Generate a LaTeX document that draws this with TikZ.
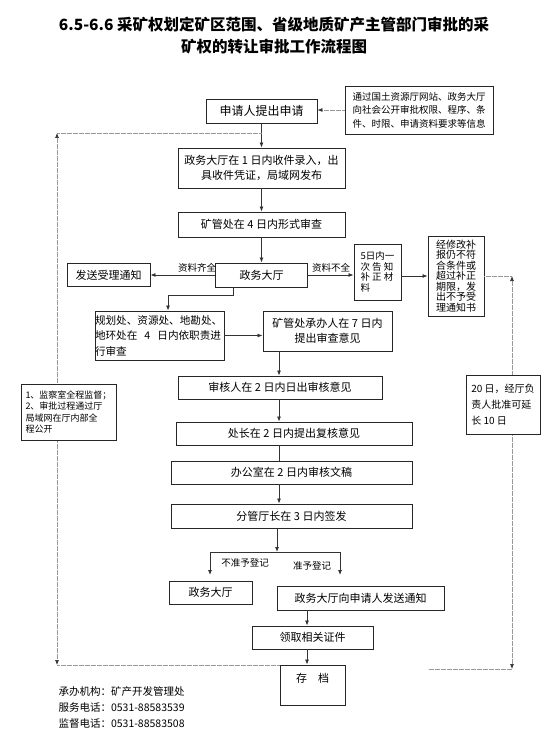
\documentclass[tikz,border=0pt]{standalone}
\usepackage{fontspec}
\setmainfont{Noto Sans CJK SC}
\usetikzlibrary{arrows.meta}
\tikzstyle{box}=[draw=black!85, line width=0.9pt, fill=white, inner sep=0pt, align=center, font=\fontsize{11}{15}\selectfont]
\tikzstyle{arr}=[draw=black!80, line width=0.8pt, -{Latex[length=5pt,width=4pt]}]
\tikzstyle{link}=[draw=black!80, line width=0.8pt]
\tikzstyle{dotline}=[draw=black!40, line width=0.7pt, dash pattern=on 0.6pt off 0.6pt]
\tikzstyle{dotarr}=[dotline, -{Latex[length=5pt,width=4pt,color=black!80]}]
\tikzstyle{dotboth}=[dotline, {Latex[length=5pt,width=4pt,color=black!80]}-{Latex[length=5pt,width=4pt,color=black!80]}]
\tikzstyle{small}=[font=\fontsize{9.5}{11}\selectfont]
\newcommand{\boxnode}{\node[box]}

\begin{document}
\begin{tikzpicture}[x=1pt,y=-1pt]
\useasboundingbox (0,0) rectangle (554,738);
\node[font=\fontsize{15.5}{22}\selectfont\bfseries, align=center] (title) at (274,36) {6.5-6.6 采矿权划定矿区范围、省级地质矿产主管部门审批的采\\矿权的转让审批工作流程图};

%main column
\boxnode[minimum width=111pt, minimum height=24pt, font=\fontsize{12}{15}\selectfont] (apply) at (261.5,111) {申请人提出申请};
\boxnode[minimum width=148pt, minimum height=48pt, font=\fontsize{9.5}{13.5}\selectfont] (info) at (419,110) {通过国土资源厅网站、政务大厅\\向社会公开审批权限、程序、条\\件、时限、申请资料要求等信息};
\boxnode[minimum width=167pt, minimum height=40pt] (hall1) at (261.5,168) {政务大厅在 1 日内收件录入，出\\具收件凭证，局域网发布};
\boxnode[minimum width=167pt, minimum height=25pt] (check) at (261.5,224.5) {矿管处在 4 日内形式审查};
\boxnode[minimum width=92pt, minimum height=24pt] (hall2) at (261.5,275) {政务大厅};
\boxnode[minimum width=83pt, minimum height=23pt] (notify) at (108.5,275) {发送受理通知};
\boxnode[minimum width=47pt, minimum height=56pt, align=left, font=\fontsize{9.5}{10.5}\selectfont] (b5) at (377.5,272) {5日内一\\次 告 知\\补 正 材\\料};
\boxnode[minimum width=56pt, minimum height=80pt, font=\fontsize{10}{10.5}\selectfont] (reject) at (456,276) {经修改补\\报仍不符\\合条件或\\超过补正\\期限，发\\出不予受\\理通知书};
\boxnode[minimum width=129pt, minimum height=49pt, text width=129pt, align=left, font=\fontsize{10.6}{15.5}\selectfont] (depts) at (159.5,335.5) {规划处、资源处、地勘处、\\地环处在 \ 4 \ 日内依职责进\\行审查};
\boxnode[minimum width=129pt, minimum height=40pt] (clerk) at (327.5,331) {矿管处承办人在 7 日内\\提出审查意见};
\boxnode[minimum width=204pt, minimum height=23pt] (audit) at (280,387.5) {审核人在 2 日内日出审核意见};
\boxnode[minimum width=236pt, minimum height=23pt] (chief) at (294,433.5) {处长在 2 日内提出复核意见};
\boxnode[minimum width=241pt, minimum height=23pt] (office) at (291.5,472.5) {办公室在 2 日内审核文稿};
\boxnode[minimum width=241pt, minimum height=24pt] (sign) at (291.5,516) {分管厅长在 3 日内签发};
\boxnode[minimum width=83pt, minimum height=23pt] (hall3) at (210.5,592.5) {政务大厅};
\boxnode[minimum width=167pt, minimum height=24pt] (send) at (360.5,598) {政务大厅向申请人发送通知};
\boxnode[minimum width=121pt, minimum height=23pt] (cert) at (312.5,637.5) {领取相关证件};
\boxnode[minimum width=65pt, minimum height=40pt] (archive) at (312.5,685) {存\hspace{1em}档\\ \mbox{}};

\coordinate (spine) at (279,0);
\coordinate (spine2) at (307,0);
\coordinate (bend) at (233,295);
\coordinate (fork) at (277,552);
\coordinate (forkl) at (210,552);
\coordinate (forkr) at (340,552);
\coordinate (noreg) at (210,575);
\coordinate (yesreg) at (340,575);
\coordinate (lt) at (57,133);
\coordinate (lb) at (57,665);
\coordinate (rt) at (512,276);
\coordinate (rb) at (512,669);
\coordinate (rend) at (428,669);

\draw[dotarr] (info.west) -- (info.west -| apply.east);
\draw[arr] (apply) -- (hall1);
\draw[arr] (hall1) -- (check);
\draw[arr] (check) -- (hall2);
\draw[arr] (hall2.west) -- (notify.east);
\draw[arr] (hall2.east) -- (hall2.east -| b5.west);
\draw[arr] (b5.east |- reject.west) -- (reject.west);
\draw[arr] (hall2.south -| bend) -- (bend) -| ([xshift=8.5pt]depts.north);
\draw[arr] (depts.east) -- (depts.east -| clerk.west);
\draw[arr] (clerk.south -| spine) -- (audit.north -| spine);
\draw[arr] (audit.south -| spine) -- (chief.north -| spine);
\draw[link] (chief.south -| spine) -- (office.north -| spine);
\draw[arr] (office.south -| spine) -- (sign.north -| spine);
\draw[arr] (sign.south -| fork) -- (fork);
\draw[link] (forkl) -- (forkr);
\draw[arr] (forkl) -- (noreg);
\draw[arr] (forkr) -- (yesreg);
\draw[arr] (send.south -| spine2) -- (cert.north -| spine2);
\draw[arr] (cert.south -| spine2) -- (archive.north -| spine2);

%%dotted return lines
\draw[dotline] (lt) -- (lt -| apply.south);
\draw[dotboth] (lt) -- (lb);
\draw[dotline] (lb) -- (lb -| archive.west);
\draw[dotline] (reject.east) -- (rt);
\draw[dotboth] (rt) -- (rb);
\draw[dotline] (rb) -- (rend);

%side notes
\boxnode[minimum width=74pt, minimum height=59pt, align=left, font=\fontsize{10}{16}\selectfont] (ext) at (503,404.5) {20 日，经厅负\\责人批准可延\\长 10 日};
\boxnode[minimum width=95pt, minimum height=56pt, align=left, font=\fontsize{9}{11.5}\selectfont] (super) at (68.5,412) {1、监察室全程监督；\\2、审批过程通过厅\\局域网在厅内部全\\程公开};

\node[small] (full) at (197,268) {资料齐全};
\node[small] (lack) at (331,268) {资料不全};
\node[small] (nolabel) at (245,563) {不准予登记};
\node[small] (yeslabel) at (312,566) {准予登记};

\node[anchor=west, align=left, font=\fontsize{10.5}{16}\selectfont] (org) at (55,707) {承办机构：矿产开发管理处\\服务电话：0531-88583539\\监督电话：0531-88583508};
\end{tikzpicture}
\end{document}
